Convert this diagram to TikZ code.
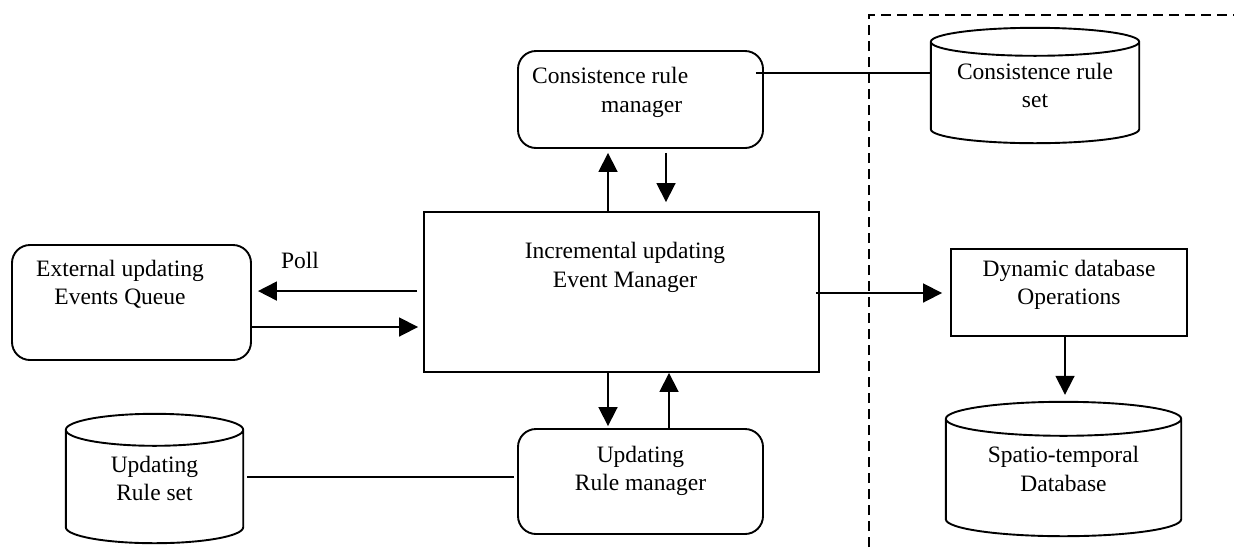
\documentclass[tikz,border=0pt]{standalone}
\usepackage{fontspec}
\setmainfont{Liberation Serif}
\usetikzlibrary{arrows.meta,calc}
\tikzset{
  boxline/.style={draw, line width=1.9pt},
  roundbox/.style={boxline, rounded corners=18pt, inner sep=0pt},
  plainbox/.style={boxline, inner sep=0pt},
  dbnode/.style={inner sep=0pt, align=center},
  txt/.style={align=center, inner sep=0pt},
  arr/.style={line width=1.8pt, -{Triangle[length=19pt,width=19pt]}},
  ln/.style={line width=1.8pt},
  sep/.style={line width=1.6pt, dash pattern=on 10pt off 6pt}
}

\begin{document}
\begin{tikzpicture}[x=1pt,y=-1pt,font=\fontsize{23.5}{28.5}\selectfont]
\useasboundingbox (0,0) rectangle (1234,547);

% boxes
\node[roundbox, minimum width=239pt, minimum height=115pt] (queue) at (131.5,302.5) {};
\node[txt] (queue-t) at (120,284) {External updating\\Events Queue};
\node[txt] (poll) at (300,260) {Poll};
\node[plainbox, minimum width=395pt, minimum height=160pt] (main) at (621.5,292) {};
\node[txt] (main-t) at (625,267.5) {Incremental updating\\Event Manager};
\node[roundbox, minimum width=245pt, minimum height=97pt] (cman) at (640.5,99.5) {};
\node[txt, anchor=west, align=left] (cman-t) at (532,92.5) {Consistence rule\\\hspace*{69pt}manager};
\node[roundbox, minimum width=245pt, minimum height=105pt] (rman) at (640.5,481.5) {};
\node[txt] (rman-t) at (640.5,471) {Updating\\Rule manager};
\node[plainbox, minimum width=236pt, minimum height=87pt] (dyn) at (1069,292.5) {};
\node[txt] (dyn-t) at (1069,285) {Dynamic database\\Operations};

% databases
\node[dbnode, minimum width=208pt, minimum height=115pt] (cset) at (1035,85.5) {Consistence rule\\set};
\node[dbnode, minimum width=235pt, minimum height=134pt] (stdb) at (1063.5,469) {Spatio-temporal\\Database};
\node[dbnode, minimum width=177pt, minimum height=129pt] (rset) at (154.5,478.5) {Updating\\Rule set};
\foreach \db/\r in {cset/14,stdb/17,rset/16}{
  \draw[line width=1.9pt] let \p1=(\db.north west), \p2=(\db.south east), \n1={(\x2-\x1)/2} in
    ([yshift=-\r pt]\db.north west) -- ([yshift=\r pt]\db.south west)
    arc[start angle=180, end angle=360, x radius=\n1, y radius=\r pt]
    -- ([yshift=-\r pt]\db.north east)
    arc[start angle=0, end angle=360, x radius=\n1, y radius=\r pt];
}

% separator
\draw[sep] (869,547) -- (869,15) -- (1234,15);

% connectors
\draw[arr] ([xshift=-6pt,yshift=-80pt]main.north west) -- ([xshift=6pt,yshift=-80pt]main.north west -| queue.east);
\draw[arr] ([yshift=-24.5pt]queue.east) -- ([xshift=-5pt,yshift=-24.5pt]queue.east -| main.west);
\draw[arr] ([xshift=-13.5pt]main.north) -- ([xshift=-13.5pt,yshift=-4pt]main.north |- cman.south);
\draw[arr] ([xshift=44.5pt,yshift=-4pt]main.north |- cman.south) -- ([xshift=44.5pt,yshift=9pt]main.north);
\draw[arr] ([xshift=-13.5pt]main.south) -- ([xshift=-13.5pt,yshift=2pt]main.south |- rman.north);
\draw[arr] ([xshift=47.5pt]main.south |- rman.north) -- ([xshift=47.5pt]main.south);
\draw[arr] ([xshift=-4pt,yshift=-1pt]main.east) -- ([xshift=-8pt,yshift=-1pt]main.east -| dyn.west);
\draw[arr] ([xshift=-4pt]dyn.south) -- ([xshift=-4pt,yshift=7pt]dyn.south |- stdb.north);
\draw[ln] ([xshift=-8pt,yshift=26.5pt]cman.east) -- ([yshift=26.5pt]cman.east -| cset.west);
\draw[ln] ([xshift=4pt,yshift=1.5pt]rset.east) -- ([xshift=-3pt,yshift=1.5pt]rset.east -| rman.west);
\end{tikzpicture}
\end{document}
